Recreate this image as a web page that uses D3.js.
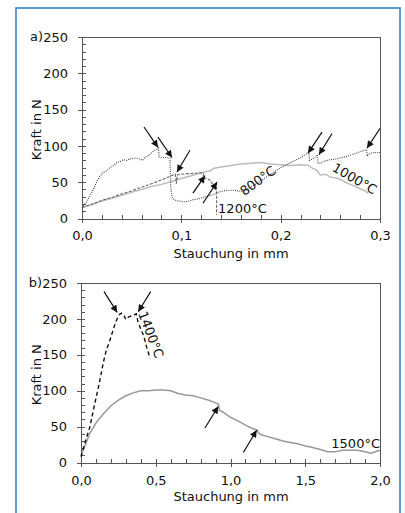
<!DOCTYPE html>
<meta charset="utf-8">
<head>
  <title>Kraft / Stauchung</title>
</head>
<style>
  body { margin: 0; background: #fff; }
  text { font-family: "DejaVu Sans", sans-serif; font-size: 13px; fill: #111; }
  .axis path, .axis line { stroke: #555; shape-rendering: crispEdges; }
  .box { fill: none; stroke: #555; shape-rendering: crispEdges; }
</style>
<body>
<script src="https://d3js.org/d3.v7.min.js"></script>
<script>
// ---- data: [Stauchung in mm, Kraft in N] ----
var a800 = [[0,15],[0.004,22],[0.008,31],[0.012,42],[0.015,51],[0.018,58],[0.021,63],[0.025,66],[0.028,70],
  [0.032,73],[0.035,77],[0.039,79],[0.042,81],[0.045,80],[0.048,82],[0.052,83],[0.055,83],[0.058,82],[0.061,80],
  [0.063,84],[0.066,86],[0.069,89],[0.072,93],[0.075,95],[0.077,97],[0.0775,85],[0.08,84],[0.085,84],[0.0885,83],
  [0.089,60],[0.0895,40],[0.091,28],[0.094,25],[0.098,24],[0.103,23],[0.108,24],[0.112,26],[0.117,27],[0.122,29],
  [0.127,31],[0.132,33],[0.137,36],[0.142,38],[0.147,39],[0.152,39],[0.157,38],[0.162,37],[0.17,43],[0.18,52],
  [0.19,61],[0.2,70],[0.21,77],[0.22,84],[0.2285,91],[0.229,80],[0.232,82],[0.236,86],[0.237,88],[0.2375,76],
  [0.24,76],[0.244,79],[0.25,81],[0.256,82],[0.262,84],[0.268,86],[0.274,89],[0.28,92],[0.2865,95],[0.287,86],
  [0.29,90],[0.295,91],[0.3,91]];
var a1000 = [[0,15],[0.01,19],[0.02,24],[0.03,28],[0.04,32],[0.05,36],[0.06,40],[0.07,44],[0.08,47],[0.09,51],
  [0.1,55],[0.11,59],[0.12,63],[0.13,66],[0.132,69],[0.14,71],[0.15,73],[0.16,75],[0.17,76],[0.18,77],[0.185,76],
  [0.19,75],[0.2,74],[0.21,73],[0.22,74],[0.228,73],[0.232,69],[0.236,67],[0.24,60],[0.245,61],[0.25,57],
  [0.255,56],[0.26,54],[0.265,50],[0.27,47],[0.275,44],[0.28,41],[0.285,38],[0.288,35]];
var a1200 = [[0,15],[0.01,20],[0.02,25],[0.03,29],[0.04,34],[0.05,38],[0.06,43],[0.07,48],[0.08,53],[0.09,59],
  [0.094,61],[0.095,48],[0.096,60],[0.1,61],[0.11,62],[0.12,63],[0.122,63],[0.1225,56],[0.126,55],[0.13,52],
  [0.1305,49],[0.134,48],[0.1355,47],[0.1355,5]];
var b1400 = [[0,8],[0.03,30],[0.06,50],[0.09,80],[0.12,108],[0.15,140],[0.17,157],[0.19,168],[0.22,188],
  [0.25,205],[0.27,208],[0.285,206],[0.3,199],[0.32,203],[0.35,205],[0.37,207],[0.38,197],[0.4,186],[0.42,176],
  [0.44,160],[0.455,150],[0.46,145]];
var b1500 = [[0,10],[0.03,25],[0.06,41],[0.1,55],[0.15,68],[0.2,79],[0.25,87],[0.3,93],[0.35,97],[0.4,100],
  [0.45,100],[0.5,101],[0.55,101],[0.6,100],[0.65,96],[0.7,94],[0.75,93],[0.8,90],[0.85,87],[0.9,83],[0.92,81],
  [0.925,73],[0.95,70],[1.0,63],[1.05,58],[1.1,52],[1.15,47],[1.18,45],[1.185,42],[1.2,39],[1.25,36],[1.3,33],
  [1.35,30],[1.4,28],[1.45,26],[1.5,23],[1.55,21],[1.6,18],[1.65,15],[1.7,15],[1.75,17],[1.8,17],[1.85,17],
  [1.9,15],[1.94,13],[1.97,15],[2.0,17]];

// arrows: [x tail, y tail, x tip, y tip]
var arrowsA = [[0.0624,126,0.0765,98],[0.0765,112,0.0906,84],[0.1087,94,0.0956,64],[0.1117,35,0.1238,59],
  [0.1218,21,0.1359,50],[0.2416,119,0.2275,90],[0.2517,117,0.2386,88],[0.3,124,0.2869,97]];
var arrowsB = [[0.154,238,0.242,209],[0.466,238,0.383,210],[0.829,48,0.918,78],[1.086,14,1.175,45]];

var yTicks = [0, 50, 100, 150, 200, 250];
var xTicksA = [0, 0.1, 0.2, 0.3];
var xTicksB = [0, 0.5, 1.0, 1.5, 2.0];

var svg = d3.select("body").append("svg")
    .attr("width", 405)
    .attr("height", 513);

svg.append("rect")
    .attr("x", 16).attr("y", 8)
    .attr("width", 384).attr("height", 530)
    .attr("fill", "#fff")
    .attr("stroke", "#3b7fc8")
    .attr("stroke-width", 1.6);

svg.append("defs").append("marker")
    .attr("id", "head")
    .attr("markerUnits", "userSpaceOnUse")
    .attr("viewBox", "0 0 10 10")
    .attr("refX", 10).attr("refY", 5)
    .attr("markerWidth", 8).attr("markerHeight", 7)
    .attr("orient", "auto")
  .append("path")
    .attr("d", "M0,0L10,5L0,10z")
    .attr("fill", "#111");

var fmt = function(d) { return d3.format(".1f")(d).replace(".", ","); };

function panel(cfg) {
  var x = d3.scaleLinear().domain(cfg.xDomain).range([cfg.left, 380]),
      y = d3.scaleLinear().domain([0, 250]).range([cfg.bottom, cfg.top]);
  var g = svg.append("g");

  // box
  g.append("rect").attr("class", "box")
      .attr("x", cfg.left + 0.5).attr("y", cfg.top + 0.5)
      .attr("width", 380 - cfg.left).attr("height", cfg.bottom - cfg.top);

  // minor ticks (inward)
  g.append("g").attr("class", "axis")
      .attr("transform", "translate(0," + cfg.bottom + ")")
      .call(d3.axisBottom(x).tickValues(cfg.xMinor).tickSize(-4).tickFormat(""))
      .select(".domain").remove();
  g.append("g").attr("class", "axis")
      .attr("transform", "translate(" + cfg.left + ",0)")
      .call(d3.axisLeft(y).tickValues(d3.range(0, 251, 10)).tickSize(-4).tickFormat(""))
      .select(".domain").remove();

  // major ticks + labels
  g.append("g").attr("class", "axis")
      .attr("transform", "translate(0," + cfg.bottom + ")")
      .call(d3.axisBottom(x).tickValues(cfg.xTicks).tickSizeInner(4).tickSizeOuter(0)
            .tickPadding(cfg.xPad).tickFormat(fmt));
  g.append("g").attr("class", "axis")
      .attr("transform", "translate(" + cfg.left + ",0)")
      .call(d3.axisLeft(y).tickValues(yTicks).tickSizeInner(4).tickSizeOuter(0).tickPadding(10));
  g.selectAll(".axis text").style("font-family", "DejaVu Sans").style("font-size", "13px").attr("fill", "#111");

  // panel letter in front of the top tick label
  g.append("text")
      .attr("x", cfg.left - 14 - 25)
      .attr("y", cfg.top)
      .attr("dy", "0.32em")
      .attr("text-anchor", "end")
      .text(cfg.letter);

  // axis titles
  g.append("text")
      .attr("transform", "translate(41," + ((cfg.top + cfg.bottom) / 2 + 2) + ") rotate(-90)")
      .attr("text-anchor", "middle")
      .text("Kraft in N");
  g.append("text")
      .attr("x", 231).attr("y", cfg.titleY)
      .attr("text-anchor", "middle")
      .text("Stauchung in mm");

  var line = d3.line().x(function(d) { return x(d[0]); }).y(function(d) { return y(d[1]); });
  cfg.series.forEach(function(s) {
    g.append("path")
        .datum(s.data)
        .attr("d", line)
        .attr("fill", "none")
        .attr("stroke", s.color)
        .attr("stroke-width", s.width)
        .attr("stroke-dasharray", s.dash);
  });

  cfg.arrows.forEach(function(a) {
    g.append("line")
        .attr("x1", x(a[0])).attr("y1", y(a[1]))
        .attr("x2", x(a[2])).attr("y2", y(a[3]))
        .attr("stroke", "#111").attr("stroke-width", 1.2)
        .attr("marker-end", "url(#head)");
  });

  cfg.labels.forEach(function(l) {
    g.append("text")
        .attr("transform", "translate(" + x(l.x) + "," + y(l.y) + ") rotate(" + l.rot + ")")
        .attr("text-anchor", l.anchor)
        .attr("dy", l.dy)
        .text(l.text);
  });
}

panel({
  letter: "a)", left: 82, top: 37, bottom: 218.5, xDomain: [0, 0.3],
  xTicks: xTicksA, xMinor: d3.range(0, 0.301, 0.02), xPad: 8, titleY: 258,
  series: [
    {data: a1000, color: "#bcbcbc", width: 1.5, dash: null},
    {data: a1200, color: "#666", width: 1.1, dash: "3,1.5"},
    {data: a800, color: "#444", width: 1.1, dash: "1,1.2"}
  ],
  arrows: arrowsA,
  labels: [
    {text: "800°C", x: 0.177, y: 52, rot: -36, anchor: "middle", dy: "0.35em"},
    {text: "1000°C", x: 0.2745, y: 55, rot: 30, anchor: "middle", dy: "0.35em"},
    {text: "1200°C", x: 0.137, y: 8, rot: 0, anchor: "start", dy: 0}
  ]
});

panel({
  letter: "b)", left: 81, top: 283, bottom: 462.5, xDomain: [0, 2],
  xTicks: xTicksB, xMinor: d3.range(0, 2.01, 0.1), xPad: 9, titleY: 501,
  series: [
    {data: b1500, color: "#999", width: 1.5, dash: null},
    {data: b1400, color: "#111", width: 1.4, dash: "4,3"}
  ],
  arrows: arrowsB,
  labels: [
    {text: "1400°C", x: 0.468, y: 178, rot: 69, anchor: "middle", dy: "0.35em"},
    {text: "1500°C", x: 2.0, y: 20, rot: 0, anchor: "end", dy: 0}
  ]
});
</script>
</body>
